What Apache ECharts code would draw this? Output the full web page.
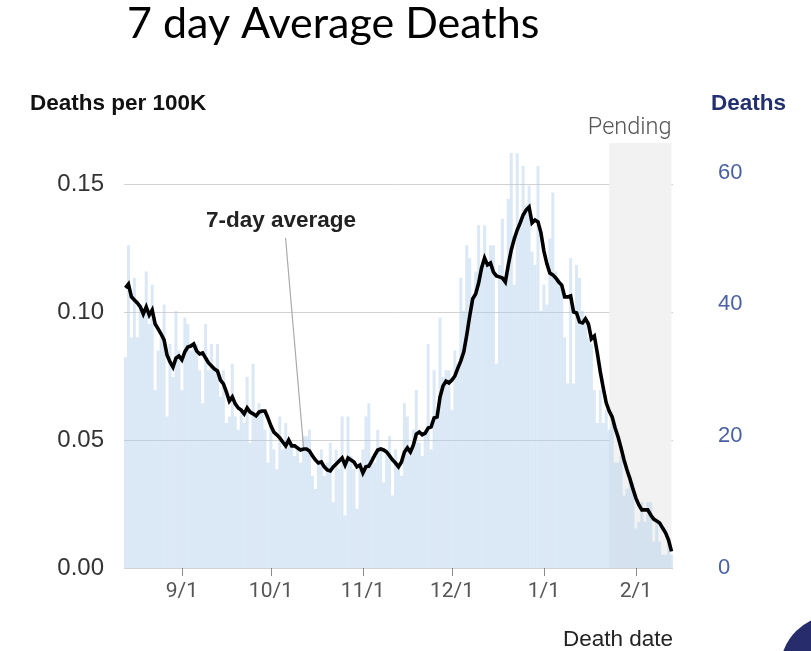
<!DOCTYPE html>
<html><head><meta charset="utf-8">
<script src="https://cdn.jsdelivr.net/npm/echarts@6/dist/echarts.min.js"></script>
<style>html,body{margin:0;padding:0;background:#fff}#c{width:811px;height:651px}</style>
</head><body><div id="c"></div>
<script>
const dates = [
"8/13","8/14","8/15","8/16","8/17","8/18","8/19","8/20","8/21","8/22","8/23","8/24","8/25","8/26","8/27","8/28","8/29","8/30","8/31",
"9/1","9/2","9/3","9/4","9/5","9/6","9/7","9/8","9/9","9/10","9/11","9/12","9/13","9/14","9/15","9/16","9/17","9/18","9/19","9/20","9/21","9/22","9/23","9/24","9/25","9/26","9/27","9/28","9/29","9/30",
"10/1","10/2","10/3","10/4","10/5","10/6","10/7","10/8","10/9","10/10","10/11","10/12","10/13","10/14","10/15","10/16","10/17","10/18","10/19","10/20","10/21","10/22","10/23","10/24","10/25","10/26","10/27","10/28","10/29","10/30","10/31",
"11/1","11/2","11/3","11/4","11/5","11/6","11/7","11/8","11/9","11/10","11/11","11/12","11/13","11/14","11/15","11/16","11/17","11/18","11/19","11/20","11/21","11/22","11/23","11/24","11/25","11/26","11/27","11/28","11/29","11/30",
"12/1","12/2","12/3","12/4","12/5","12/6","12/7","12/8","12/9","12/10","12/11","12/12","12/13","12/14","12/15","12/16","12/17","12/18","12/19","12/20","12/21","12/22","12/23","12/24","12/25","12/26","12/27","12/28","12/29","12/30","12/31",
"1/1","1/2","1/3","1/4","1/5","1/6","1/7","1/8","1/9","1/10","1/11","1/12","1/13","1/14","1/15","1/16","1/17","1/18","1/19","1/20","1/21","1/22","1/23","1/24","1/25","1/26","1/27","1/28","1/29","1/30","1/31",
"2/1","2/2","2/3","2/4","2/5","2/6","2/7","2/8","2/9","2/10","2/11","2/12","2/13"
];

// daily deaths (right axis)
const dailyDeaths = [
32,49,35,44,35,40,39,45,37,43,27,33,35,40,23,34,29,39,33,27,38,37,33,34,34,30,25,37,30,34,30,
34,26,30,22,23,31,23,21,24,22,29,19,31,23,25,24,21,16,22,18,15,23,18,22,19,19,17,18,16,20,20,
21,14,12,16,18,14,16,19,10,18,15,23,8,23,17,15,9,16,18,23,25,17,16,21,18,13,18,20,11,18,16,
14,25,23,17,21,27,19,17,21,34,18,30,24,38,29,30,30,24,33,31,44,39,49,47,41,45,52,45,52,46,49,
49,31,46,53,44,56,63,43,63,52,61,55,58,48,46,61,39,43,40,50,57,45,44,43,35,28,47,28,46,44,39,
38,35,34,27,22,27,22,24,21,22,16,16,17,11,12,14,13,6,7,10,7,10,10,4,7,4,2,2,4,2
];

// 7-day average, deaths per 100K (left axis)
const avgPer100k = [
0.1094,0.1109,0.1059,0.1047,0.1035,0.1020,0.0992,0.1020,0.0988,0.1008,
0.0953,0.0934,0.0914,0.0891,0.0832,0.0805,0.0785,0.0820,0.0828,0.0813,
0.0844,0.0863,0.0867,0.0875,0.0848,0.0836,0.0840,0.0820,0.0801,0.0789,
0.0777,0.0770,0.0734,0.0719,0.0688,0.0652,0.0668,0.0641,0.0625,0.0617,
0.0602,0.0625,0.0609,0.0602,0.0594,0.0609,0.0613,0.0613,0.0586,0.0555,
0.0531,0.0520,0.0508,0.0492,0.0477,0.0500,0.0477,0.0477,0.0469,0.0461,
0.0465,0.0465,0.0457,0.0438,0.0422,0.0410,0.0414,0.0395,0.0383,0.0379,
0.0395,0.0406,0.0418,0.0430,0.0402,0.0430,0.0422,0.0414,0.0395,0.0402,
0.0371,0.0395,0.0398,0.0418,0.0441,0.0461,0.0465,0.0461,0.0453,0.0438,
0.0422,0.0410,0.0395,0.0414,0.0453,0.0469,0.0453,0.0480,0.0523,0.0531,
0.0520,0.0527,0.0547,0.0551,0.0586,0.0590,0.0668,0.0711,0.0730,0.0723,
0.0734,0.0750,0.0781,0.0809,0.0844,0.0910,0.0984,0.1051,0.1070,0.1113,
0.1172,0.1211,0.1184,0.1191,0.1156,0.1141,0.1137,0.1133,0.1117,0.1184,
0.1242,0.1285,0.1320,0.1348,0.1379,0.1398,0.1410,0.1348,0.1359,0.1352,
0.1309,0.1238,0.1188,0.1152,0.1145,0.1133,0.1117,0.1105,0.1059,0.1059,
0.1063,0.1000,0.0996,0.0961,0.0957,0.0973,0.0953,0.0895,0.0906,0.0840,
0.0766,0.0703,0.0645,0.0613,0.0590,0.0547,0.0512,0.0469,0.0422,0.0383,
0.0348,0.0309,0.0273,0.0246,0.0227,0.0227,0.0227,0.0207,0.0191,0.0184,
0.0176,0.0156,0.0137,0.0109,0.0065
];

const leftTicks = [0, 0.05, 0.10, 0.15];
const rightTicks = [0, 20, 40, 60];
const leftMax = 0.166;
const rightMax = 64.5;
const pendingStart = "1/23";
const pendingEnd = "2/13";
const annotationDate = "10/12";

const chart = echarts.init(document.getElementById('c'), null, {renderer: 'canvas'});
const isMonthStart = (i, v) => /\/1$/.test(v);

const baseGraphic = [
  {type: 'text', left: 127, top: 3, style: {text: '7 day Average Deaths', fontSize: 43, fontFamily: 'Lato', fill: '#000'}},
  {type: 'text', left: 30, top: 92, style: {text: 'Deaths per 100K', fontSize: 22.5, fontWeight: 'bold', fontFamily: 'Liberation Sans', fill: '#111'}},
  {type: 'text', left: 711, top: 92, style: {text: 'Deaths', fontSize: 22.5, fontWeight: 'bold', fontFamily: 'Liberation Sans', fill: '#23306f'}},
  {type: 'text', right: 138, top: 628, style: {text: 'Death date', fontSize: 22.5, fontFamily: 'Liberation Sans', fill: '#222'}},
  {type: 'text', left: 206, top: 209, style: {text: '7-day average', fontSize: 22.5, fontWeight: 'bold', fontFamily: 'Liberation Sans', fill: '#222'}},
  {type: 'circle', shape: {cx: 835, cy: 670, r: 55}, style: {fill: '#262c6c'}}
];

chart.setOption({
  animation: false,
  backgroundColor: '#fff',
  grid: {left: 124, right: 138, top: 143, bottom: 83},
  xAxis: {
    type: 'category', data: dates, boundaryGap: true,
    axisLine: {show: false},
    axisTick: {show: true, alignWithLabel: true, interval: isMonthStart, length: 8, lineStyle: {color: '#888', width: 1}},
    axisLabel: {interval: isMonthStart, color: '#555', fontSize: 21, fontFamily: 'Roboto', margin: 13},
    splitLine: {show: false}
  },
  yAxis: [
    {
      type: 'value', position: 'left', min: leftTicks[0], max: leftMax, interval: leftTicks[1] - leftTicks[0],
      axisLine: {show: false}, axisTick: {show: false},
      axisLabel: {formatter: v => v.toFixed(2), color: '#333', fontSize: 24, fontFamily: 'Liberation Sans', margin: 20, showMaxLabel: false},
      splitLine: {show: true, showMaxLine: false, lineStyle: {color: '#d2d2d2', width: 1}}
    },
    {
      type: 'value', position: 'right', min: rightTicks[0], max: rightMax, interval: rightTicks[1] - rightTicks[0],
      axisLine: {show: false}, axisTick: {show: false},
      axisLabel: {color: '#4a62a3', fontSize: 22, fontFamily: 'Liberation Sans', margin: 45, align: 'left', showMaxLabel: false},
      splitLine: {show: false}
    }
  ],
  series: [
    {
      name: 'pending', type: 'line', data: avgPer100k, yAxisIndex: 0, z: 1, silent: true,
      showSymbol: false, lineStyle: {opacity: 0},
      markArea: {
        silent: true,
        itemStyle: {color: '#f2f2f2'},
        label: {show: true, position: ['100%', 0], align: 'right', verticalAlign: 'bottom', offset: [0, -3],
                color: '#555', fontSize: 23.5, fontFamily: 'Roboto', fontWeight: 300},
        data: [[{xAxis: pendingStart, name: 'Pending'}, {xAxis: pendingEnd}]]
      }
    },
    {
      name: 'Deaths', type: 'bar', data: dailyDeaths, yAxisIndex: 1, z: 2,
      barCategoryGap: '0%', barGap: '0%',
      itemStyle: {color: 'rgba(176,203,233,0.45)'}, silent: true
    },
    {
      name: '7-day average', type: 'line', data: avgPer100k, yAxisIndex: 0, z: 5,
      showSymbol: false, symbol: 'none', smooth: false,
      lineStyle: {color: '#000', width: 3.6, join: 'miter'}, silent: true
    }
  ],
  graphic: baseGraphic
});

// leader line from annotation text to the average line
const idx = dates.indexOf(annotationDate);
const end = chart.convertToPixel({xAxisIndex: 0, yAxisIndex: 0}, [annotationDate, avgPer100k[idx]]);
chart.setOption({
  graphic: baseGraphic.concat([
    {type: 'line', shape: {x1: end[0] - 18, y1: 238, x2: end[0], y2: end[1] - 2}, style: {stroke: '#aaa', lineWidth: 1.2}, z: 4}
  ])
}, {replaceMerge: ['graphic']});
</script>
</body></html>
